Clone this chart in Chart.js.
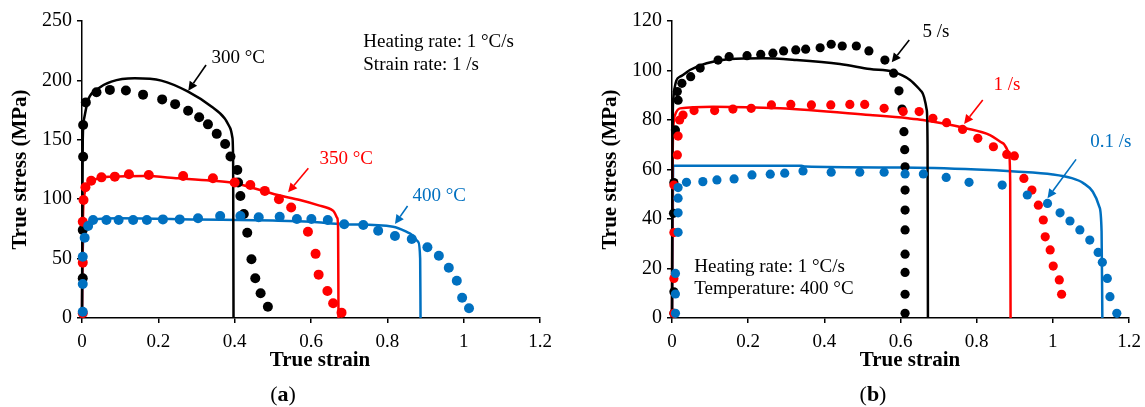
<!DOCTYPE html>
<html>
<head>
<meta charset="utf-8">
<script src="https://cdn.jsdelivr.net/npm/chart.js@4.4.1/dist/chart.umd.min.js"></script>
<style>
  html, body { margin: 0; padding: 0; background: #fff; }
  #wrap { position: relative; width: 1145px; height: 407px; overflow: hidden; }
  canvas { position: absolute; top: 0; }
</style>
</head>
<body>
<div id="wrap">
  <canvas id="chartA" width="572" height="407" style="left:0px"></canvas>
  <canvas id="chartB" width="573" height="407" style="left:572px"></canvas>
</div>
<script>
// ---- tick values / labels
const xTickValues = [0, 0.2, 0.4, 0.6, 0.8, 1, 1.2];
const xTickLabels = ['0', '0.2', '0.4', '0.6', '0.8', '1', '1.2'];
const aYTicks = [0, 50, 100, 150, 200, 250];
const bYTicks = [0, 20, 40, 60, 80, 100, 120];

// ---- (a) measured points, strain rate 1 /s
const a300Strain = [0.002, 0.002, 0.003, 0.003, 0.01, 0.038, 0.073, 0.115, 0.16, 0.21, 0.244, 0.278, 0.307, 0.33, 0.353, 0.375, 0.389, 0.407, 0.409, 0.415, 0.424, 0.433, 0.444, 0.454, 0.468, 0.487];
const a300Stress = [33.4, 74, 135.8, 162.5, 181.5, 190, 192, 191.5, 188, 184, 180, 174.5, 169, 163, 155, 146.5, 136, 124.6, 114, 102.7, 87.5, 71.8, 49.4, 33.4, 20.8, 9.5];
const a350Strain = [0.002, 0.002, 0.002, 0.004, 0.009, 0.024, 0.051, 0.086, 0.123, 0.175, 0.265, 0.343, 0.4, 0.441, 0.479, 0.516, 0.548, 0.592, 0.612, 0.62, 0.643, 0.658, 0.68];
const a350Stress = [4, 46.6, 81, 99.3, 110, 115.6, 118.4, 119, 121, 120.4, 119.5, 117.6, 114, 112, 107, 100, 93, 72.6, 54, 36.5, 22.7, 12.4, 4.5];
const a400Strain = [0.002, 0.002, 0.002, 0.007, 0.016, 0.029, 0.064, 0.096, 0.134, 0.17, 0.212, 0.256, 0.304, 0.362, 0.415, 0.463, 0.518, 0.563, 0.601, 0.644, 0.687, 0.737, 0.776, 0.82, 0.864, 0.905, 0.935, 0.961, 0.982, 0.996, 1.014];
const a400Stress = [5.3, 28.6, 51.6, 67.6, 77.4, 82.5, 82.5, 82.5, 82.5, 82.5, 83, 83, 84, 85.9, 85.9, 84.8, 85.3, 83.3, 83.3, 82.5, 78.9, 78.3, 73.5, 69, 66.5, 59.5, 52.4, 42.3, 31.4, 17.1, 8.2];

// ---- (a) model curves
const a300LineStrain = [0, 0.001, 0.002, 0.005, 0.016, 0.042, 0.077, 0.138, 0.208, 0.278, 0.339, 0.374, 0.388, 0.394, 0.396, 0.397];
const a300LineStress = [0, 80, 150, 167, 183.5, 193, 199, 201.8, 199.8, 190.5, 178, 168, 160, 152, 130, 0];
const a350LineStrain = [0, 0.001, 0.003, 0.007, 0.024, 0.077, 0.164, 0.252, 0.339, 0.4, 0.513, 0.571, 0.618, 0.658, 0.669, 0.671, 0.672];
const a350LineStress = [0, 50, 90, 105, 114.7, 119, 119.5, 117.6, 115.6, 113.4, 103.5, 99.3, 95, 90.3, 84, 75, 0];
const a400LineStrain = [0, 0.001, 0.004, 0.012, 0.03, 0.1, 0.3, 0.5, 0.6, 0.684, 0.815, 0.859, 0.881, 0.886, 0.887];
const a400LineStress = [0, 40, 70, 79, 83, 84, 83, 82, 81, 79, 76.9, 71.3, 64, 50, 0];

// ---- (b) measured points, 400 °C
const b5Strain = [0.005, 0.005, 0.004, 0.005, 0.009, 0.016, 0.014, 0.026, 0.049, 0.074, 0.121, 0.15, 0.197, 0.233, 0.265, 0.293, 0.325, 0.351, 0.389, 0.418, 0.447, 0.484, 0.517, 0.559, 0.582, 0.596, 0.604, 0.609, 0.611, 0.612, 0.612, 0.612, 0.612, 0.612, 0.612, 0.612, 0.612];
const b5Stress = [1.9, 10.6, 42.3, 54.7, 76, 88, 91.5, 94.8, 97.5, 101, 104.2, 105.6, 106, 106.5, 107, 107.9, 108.3, 108.6, 109.2, 110.6, 109.9, 109.9, 107.9, 104.2, 98.9, 91.8, 84.4, 75.3, 68, 61.1, 51.7, 43.6, 35.6, 25.8, 18.4, 9.6, 1.9];
const b1Strain = [0.005, 0.005, 0.005, 0.005, 0.014, 0.016, 0.02, 0.029, 0.058, 0.112, 0.16, 0.208, 0.261, 0.312, 0.366, 0.417, 0.467, 0.506, 0.557, 0.607, 0.649, 0.685, 0.721, 0.763, 0.803, 0.844, 0.879, 0.899, 0.924, 0.945, 0.962, 0.975, 0.98, 0.993, 1.001, 1.017, 1.023];
const b1Stress = [1.9, 16, 34.5, 53.7, 65.9, 73.5, 80, 82, 83.8, 83.8, 84.4, 84.7, 86.1, 86.3, 86.1, 86.1, 86.3, 86.3, 84.7, 83.4, 83.4, 80.7, 78.9, 76.2, 72.6, 69.2, 66.1, 65.5, 56.4, 51.7, 45.6, 39.6, 32.8, 27.5, 21, 15.4, 9.6];
const b01Strain = [0.009, 0.009, 0.009, 0.016, 0.016, 0.016, 0.016, 0.038, 0.081, 0.118, 0.163, 0.21, 0.258, 0.296, 0.344, 0.418, 0.493, 0.557, 0.612, 0.66, 0.72, 0.78, 0.867, 0.933, 0.986, 1.019, 1.045, 1.071, 1.097, 1.119, 1.13, 1.143, 1.15, 1.168];
const b01Stress = [1.9, 9.7, 18, 34.6, 42.5, 48.4, 52.7, 54.8, 55.1, 55.8, 56.2, 57.8, 58.1, 58.5, 59.4, 58.9, 58.9, 58.9, 58.2, 58.2, 56.8, 54.8, 53.7, 49.7, 46.3, 42.5, 39.2, 35.6, 31.5, 26.5, 22.5, 16, 8.6, 1.9];

// ---- (b) model curves
const b5LineStrain = [0, 0.001, 0.003, 0.021, 0.047, 0.091, 0.152, 0.239, 0.327, 0.441, 0.52, 0.58, 0.625, 0.656, 0.669, 0.671, 0.672];
const b5LineStress = [0, 60, 88, 97.5, 100.2, 102.9, 104.6, 104.9, 104.2, 102.6, 100.6, 99.5, 96.2, 91.4, 84, 70, 0];
const b1LineStrain = [0, 0.001, 0.003, 0.008, 0.021, 0.108, 0.284, 0.52, 0.62, 0.659, 0.774, 0.835, 0.869, 0.885, 0.888, 0.889];
const b1LineStress = [0, 50, 75, 82, 84.7, 85.4, 84.7, 82, 80.7, 80, 76.6, 73.9, 70.6, 66.5, 55, 0];
const b01LineStrain = [0, 0.002, 0.003, 0.34, 0.35, 0.6, 0.8, 0.9, 1.0, 1.05, 1.08, 1.105, 1.122, 1.128, 1.13];
const b01LineStress = [0, 40, 61.5, 61.5, 61.2, 60.8, 60, 59.2, 58, 56.5, 54.5, 51, 45, 35, 0];

const BLACK = '#000000', RED = '#ff0000', BLUE = '#0070c0';
const SERIF = '"Liberation Serif", "Times New Roman", serif';

function xy(xs, ys) {
    return xs.map((x, i) => ({ x: x, y: ys[i] }));
}

function dots(xs, ys, color, order, r) {
    return { data: xy(xs, ys), showLine: false, pointRadius: r, pointHoverRadius: r,
             backgroundColor: color, borderWidth: 0, clip: false, order: order };
}

function curve(xs, ys, color) {
    return { data: xy(xs, ys), showLine: true, pointRadius: 0, borderColor: color,
             borderWidth: 2.5, cubicInterpolationMode: 'monotone', clip: false, order: 5 };
}

// arrows, texts, axis titles and panel letter
const notesPlugin = {
    id: 'notes',
    afterDraw(chart, args, opts) {
        const ctx = chart.ctx, sx = chart.scales.x, sy = chart.scales.y, area = chart.chartArea;
        ctx.save();
        opts.arrows.forEach(a => {
            const x1 = sx.getPixelForValue(a.from[0]), y1 = sy.getPixelForValue(a.from[1]);
            const x2 = sx.getPixelForValue(a.to[0]), y2 = sy.getPixelForValue(a.to[1]);
            const ang = Math.atan2(y2 - y1, x2 - x1);
            const head = 9, hw = 4.5;
            const bx = x2 - head * Math.cos(ang), by = y2 - head * Math.sin(ang);
            ctx.strokeStyle = a.color;
            ctx.fillStyle = a.color;
            ctx.lineWidth = 1.6;
            ctx.beginPath();
            ctx.moveTo(x1, y1);
            ctx.lineTo(bx, by);
            ctx.stroke();
            ctx.beginPath();
            ctx.moveTo(x2, y2);
            ctx.lineTo(bx + hw * Math.sin(ang), by - hw * Math.cos(ang));
            ctx.lineTo(bx - hw * Math.sin(ang), by + hw * Math.cos(ang));
            ctx.closePath();
            ctx.fill();
        });
        ctx.textBaseline = 'middle';
        ctx.textAlign = 'left';
        ctx.font = '19px ' + SERIF;
        opts.labels.forEach(l => {
            ctx.fillStyle = l.color;
            ctx.fillText(l.text, sx.getPixelForValue(l.at[0]), sy.getPixelForValue(l.at[1]));
        });

        ctx.fillStyle = '#000';
        ctx.textAlign = 'center';
        ctx.font = 'bold 21px ' + SERIF;
        ctx.fillText('True strain', area.left + 238, 361);
        ctx.save();
        ctx.translate(area.left - 61, (area.top + area.bottom) / 2);
        ctx.rotate(-Math.PI / 2);
        ctx.fillText('True stress (MPa)', 0, 0);
        ctx.restore();

        // "(a)" with a bold letter
        const normal = '22px ' + SERIF, bold = 'bold 22px ' + SERIF;
        ctx.font = normal;
        const wp = ctx.measureText('(').width, wq = ctx.measureText(')').width;
        ctx.font = bold;
        const wl = ctx.measureText(opts.tag).width;
        let x = area.left + 201 - (wp + wl + wq) / 2;
        ctx.textAlign = 'left';
        ctx.font = normal; ctx.fillText('(', x, 395); x += wp;
        ctx.font = bold; ctx.fillText(opts.tag, x, 395); x += wl;
        ctx.font = normal; ctx.fillText(')', x, 395);
        ctx.restore();
    }
};

function scales(yTicks, yWidth) {
    const grid = { display: true, drawOnChartArea: false, drawTicks: true, tickLength: 5, color: '#000', lineWidth: 1.5 };
    const border = { display: true, color: '#000', width: 1.5 };
    return {
        x: {
            type: 'linear', min: 0, max: 1.2,
            afterBuildTicks: s => { s.ticks = xTickValues.map(v => ({ value: v })); },
            ticks: { callback: (v, i) => xTickLabels[i], font: { family: SERIF, size: 19 }, color: '#000', padding: 8, maxRotation: 0, autoSkip: false },
            grid: grid, border: border,
            afterFit: s => { s.height = 89; s.paddingLeft = 0; s.paddingRight = 0; }
        },
        y: {
            type: 'linear', min: yTicks[0], max: yTicks[yTicks.length - 1],
            afterBuildTicks: s => { s.ticks = yTicks.map(v => ({ value: v })); },
            ticks: { callback: v => String(v), font: { family: SERIF, size: 20 }, color: '#000', padding: 5, autoSkip: false },
            grid: grid, border: border,
            afterFit: s => { s.width = yWidth; s.paddingTop = 0; s.paddingBottom = 0; }
        }
    };
}

function baseOptions(yTicks, yWidth, padRight, notes) {
    return {
        responsive: false, animation: false, devicePixelRatio: 1,
        layout: { padding: { left: 0, right: padRight, top: 21, bottom: 0 } },
        plugins: { legend: { display: false }, tooltip: { enabled: false }, notes: notes },
        scales: scales(yTicks, yWidth)
    };
}

new Chart(document.getElementById('chartA'), {
    type: 'scatter',
    data: {
        datasets: [
            dots(a400Strain, a400Stress, BLUE, 0, 5),
            dots(a350Strain, a350Stress, RED, 1, 5),
            dots(a300Strain, a300Stress, BLACK, 2, 5),
            curve(a300LineStrain, a300LineStress, BLACK),
            curve(a350LineStrain, a350LineStress, RED),
            curve(a400LineStrain, a400LineStress, BLUE)
        ]
    },
    options: baseOptions(aYTicks, 82, 32, {
        tag: 'a',
        arrows: [
            { from: [0.325, 213], to: [0.2785, 191.3], color: BLACK },
            { from: [0.593, 126], to: [0.54, 105.8], color: RED },
            { from: [0.853, 94.3], to: [0.82, 79.1], color: BLUE }
        ],
        labels: [
            { text: '300 °C', at: [0.339, 218.9], color: BLACK },
            { text: '350 °C', at: [0.622, 133.6], color: RED },
            { text: '400 °C', at: [0.866, 103], color: BLUE },
            { text: 'Heating rate: 1 °C/s', at: [0.737, 232.6], color: BLACK },
            { text: 'Strain rate: 1 /s', at: [0.737, 213], color: BLACK }
        ]
    }),
    plugins: [notesPlugin]
});

new Chart(document.getElementById('chartB'), {
    type: 'scatter',
    data: {
        datasets: [
            dots(b01Strain, b01Stress, BLUE, 0, 4.6),
            dots(b1Strain, b1Stress, RED, 1, 4.6),
            dots(b5Strain, b5Stress, BLACK, 2, 4.6),
            curve(b5LineStrain, b5LineStress, BLACK),
            curve(b1LineStrain, b1LineStress, RED),
            curve(b01LineStrain, b01LineStress, BLUE)
        ]
    },
    options: baseOptions(bYTicks, 100, 16, {
        tag: 'b',
        arrows: [
            { from: [0.623, 112.3], to: [0.577, 103.3], color: BLACK },
            { from: [0.816, 88.1], to: [0.767, 78.4], color: RED },
            { from: [1.061, 64.1], to: [0.986, 48.4], color: BLUE }
        ],
        labels: [
            { text: '5 /s', at: [0.658, 115.7], color: BLACK },
            { text: '1 /s', at: [0.844, 94.1], color: RED },
            { text: '0.1 /s', at: [1.098, 71.2], color: BLUE },
            { text: 'Heating rate: 1 °C/s', at: [0.0586, 20.5], color: BLACK },
            { text: 'Temperature: 400 °C', at: [0.0586, 11.6], color: BLACK }
        ]
    }),
    plugins: [notesPlugin]
});
</script>
</body>
</html>
